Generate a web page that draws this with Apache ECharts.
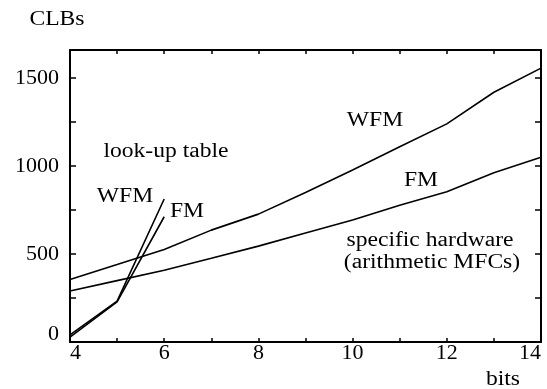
<!DOCTYPE html>
<html>
<head>
<meta charset="utf-8">
<script src="https://cdn.jsdelivr.net/npm/echarts@6/dist/echarts.min.js"></script>
<style>html,body{margin:0;padding:0;background:#fff}#c{width:547px;height:389px}</style>
</head>
<body>
<div id="c"></div>
<script>
// hardware (specific hardware, arithmetic MFCs)
var bitsHW = [4, 5, 6, 7, 8, 9, 10, 11, 12, 13, 14];
var wfmHW = [355, 440, 526, 636, 727, 850, 978, 1110, 1240, 1420, 1557];
var fmHW  = [290, 349, 408, 476, 545, 620, 693, 778, 854, 962, 1050];
// look-up table
var bitsLUT = [4, 5, 6];
var wfmLUT = [40, 232, 813];
var fmLUT  = [28, 228, 712];

var FONT = 'Liberation Serif';
var chart = echarts.init(document.getElementById('c'), null, {renderer: 'canvas'});

function pairs(xs, ys) { return xs.map(function (x, i) { return [x, ys[i]]; }); }

var axisLine = {show: true, onZero: false, lineStyle: {color: '#000', width: 2}};
var lineStyle = {color: '#000', width: 1.6};

function txt(s, cx, cy) {
  return {
    type: 'text', x: cx, y: cy, scaleX: 1.18, silent: true,
    style: {text: s, x: 0, y: 0, fill: '#000', font: '20px "' + FONT + '"', align: 'center', verticalAlign: 'middle'}
  };
}

chart.setOption({
  animation: false,
  backgroundColor: '#fff',
  grid: {left: 70, right: 6, top: 50, bottom: 47, containLabel: false},
  xAxis: [{
    type: 'value', min: 4, max: 14, interval: 1, position: 'bottom',
    axisLine: axisLine,
    axisTick: {show: true, inside: true, length: 4, lineStyle: {color: '#000', width: 1.5}},
    splitLine: {show: false},
    axisLabel: {
      color: '#000', fontFamily: FONT, fontSize: 22, margin: 3, lineHeight: 16,
      alignMinLabel: 'left', alignMaxLabel: 'right',
      formatter: function (v) { return v % 2 === 0 ? String(v) : ''; }
    }
  }, {
    type: 'value', min: 4, max: 14, interval: 1, position: 'top',
    axisLine: axisLine,
    axisTick: {show: true, inside: true, length: 4, lineStyle: {color: '#000', width: 1.5}},
    splitLine: {show: false},
    axisLabel: {show: false}
  }],
  yAxis: [{
    type: 'value', min: 0, max: 1660, interval: 250, position: 'left',
    axisLine: axisLine,
    axisTick: {show: true, inside: true, length: 6, lineStyle: {color: '#000', width: 1.5}},
    splitLine: {show: false},
    axisLabel: {
      color: '#000', fontFamily: FONT, fontSize: 22, margin: 11, lineHeight: 15,
      verticalAlignMinLabel: 'bottom',
      formatter: function (v) { return v % 500 === 0 ? String(v) : ''; }
    }
  }, {
    type: 'value', min: 0, max: 1660, interval: 250, position: 'right',
    axisLine: axisLine,
    axisTick: {show: true, inside: true, length: 6, lineStyle: {color: '#000', width: 1.5}},
    splitLine: {show: false},
    axisLabel: {show: false}
  }],
  series: [
    {type: 'line', data: pairs(bitsHW, wfmHW), showSymbol: false, lineStyle: lineStyle, itemStyle: {color: '#000'}},
    {type: 'line', data: pairs(bitsHW, fmHW), showSymbol: false, lineStyle: lineStyle, itemStyle: {color: '#000'}},
    {type: 'line', data: pairs(bitsLUT, wfmLUT), showSymbol: false, lineStyle: lineStyle, itemStyle: {color: '#000'}},
    {type: 'line', data: pairs(bitsLUT, fmLUT), showSymbol: false, lineStyle: lineStyle, itemStyle: {color: '#000'}}
  ],
  graphic: [
    txt('CLBs', 57, 20),
    txt('bits', 503, 380),
    txt('look-up table', 166, 152),
    txt('WFM', 125, 197),
    txt('FM', 187, 212),
    txt('WFM', 375, 121),
    txt('FM', 421, 181),
    txt('specific hardware', 430, 241),
    txt('(arithmetic MFCs)', 432, 263)
  ]
});
</script>
</body>
</html>
